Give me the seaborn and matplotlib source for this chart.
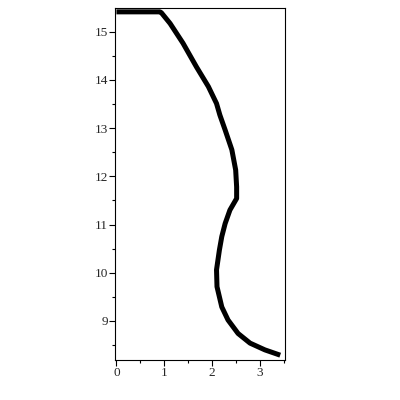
import matplotlib
matplotlib.use("Agg")
import matplotlib.pyplot as plt
from matplotlib.ticker import MultipleLocator
import seaborn as sns
import pandas as pd

# curve
x_vals = [0.0, 0.91, 0.94, 1.12, 1.39, 1.67, 1.92, 2.09, 2.16, 2.27, 2.41, 2.49,
          2.51, 2.51, 2.37, 2.27, 2.20, 2.15, 2.09, 2.10, 2.20, 2.33, 2.54,
          2.79, 3.10, 3.42]
y_vals = [15.41, 15.41, 15.39, 15.17, 14.76, 14.27, 13.86, 13.51, 13.27, 12.96, 12.55, 12.13,
          11.78, 11.54, 11.30, 11.02, 10.75, 10.47, 10.06, 9.71, 9.29, 9.02, 8.74,
          8.54, 8.40, 8.29]
x_ticks = [0, 1, 2, 3]
y_ticks = [9, 10, 11, 12, 13, 14, 15]

dados = pd.DataFrame({"x": x_vals, "y": y_vals})

sns.set_style("ticks")
plt.rcParams['font.family'] = ['Liberation Serif', 'DejaVu Serif']

fig = plt.figure(figsize=(4, 4), dpi=100)
ax = fig.add_axes([0.2875, 0.10, 0.425, 0.88])

sns.lineplot(data=dados, x="x", y="y", sort=False, estimator=None,
             color="black", linewidth=3.6, ax=ax)
ax.lines[0].set_solid_joinstyle("round")
ax.lines[0].set_solid_capstyle("butt")

ax.set_xlim(-0.03, 3.52)
ax.set_ylim(8.19, 15.49)
ax.set_xticks(x_ticks)
ax.set_yticks(y_ticks)
ax.xaxis.set_minor_locator(MultipleLocator(0.5))
ax.yaxis.set_minor_locator(MultipleLocator(0.5))
ax.tick_params(which="major", length=4, width=0.8, labelsize=9.5, pad=1, color="black")
ax.tick_params(which="minor", length=2, width=0.8, color="black")
ax.set_xlabel("")
ax.set_ylabel("")
for s in ax.spines.values():
    s.set_visible(True)
    s.set_linewidth(0.8)
    s.set_color("black")

fig.savefig("out.png", dpi=100)
